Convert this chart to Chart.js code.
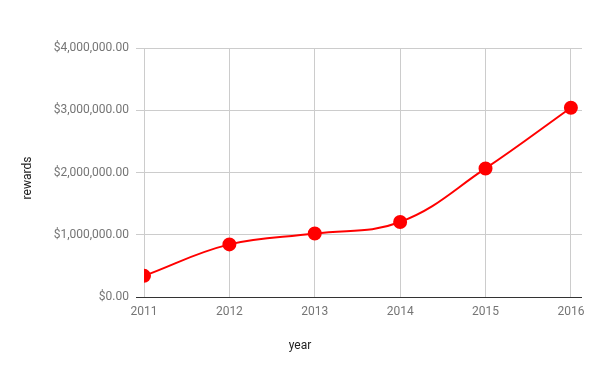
<!DOCTYPE html>
<html>
<head>
<meta charset="utf-8">
<script src="https://cdn.jsdelivr.net/npm/chart.js@4"></script>
<style>
  html, body { margin: 0; padding: 0; background: #fff; }
  #wrap { width: 600px; height: 371px; position: relative; }
</style>
</head>
<body>
<div id="wrap"><canvas id="chart"></canvas></div>
<script>
const years = [2011, 2012, 2013, 2014, 2015, 2016];
const rewards = [340000, 845000, 1020000, 1205000, 2065000, 3040000];
const yTicks = [0, 1000000, 2000000, 3000000, 4000000];

const money = (v) =>
  "$" + v.toLocaleString("en-US", { minimumFractionDigits: 2, maximumFractionDigits: 2 });

// axis titles drawn by hand so "year" sits at the page centre like the original
const axisTitles = {
  id: "axisTitles",
  afterDraw(chart) {
    const ctx = chart.ctx;
    ctx.save();
    ctx.fillStyle = "#222";
    ctx.font = "12px Roboto";
    ctx.textAlign = "center";
    ctx.textBaseline = "middle";
    ctx.fillText("year", 300, 346);
    ctx.translate(28, 178);
    ctx.rotate(-Math.PI / 2);
    ctx.fillText("rewards", 0, 0);
    ctx.restore();
  },
};

new Chart(document.getElementById("chart"), {
  type: "line",
  data: {
    datasets: [
      {
        label: "rewards",
        data: years.map((y, i) => ({ x: y, y: rewards[i] })),
        borderColor: "#ff0000",
        backgroundColor: "#ff0000",
        borderWidth: 2,
        pointRadius: 6,
        pointHoverRadius: 6,
        tension: 0.4,
      },
    ],
  },
  options: {
    responsive: true,
    maintainAspectRatio: false,
    animation: false,
    layout: { padding: { top: 48, right: 18, bottom: 0, left: 0 } },
    plugins: { legend: { display: false }, tooltip: { enabled: false } },
    scales: {
      x: {
        type: "linear",
        min: 2011,
        max: 2016.13,
        afterBuildTicks: (scale) => { scale.ticks = years.map((v) => ({ value: v })); },
        afterFit: (scale) => { scale.height = 74; },
        ticks: {
          callback: (v) => String(v),
          color: "#757575",
          font: { family: "Roboto", size: 12 },
          padding: 8,
          maxRotation: 0,
        },
        grid: { color: "#cccccc", drawTicks: false },
        border: { display: false },
      },
      y: {
        min: 0,
        max: 4000000,
        afterBuildTicks: (scale) => { scale.ticks = yTicks.map((v) => ({ value: v })); },
        afterFit: (scale) => { scale.width = 144; },
        ticks: {
          callback: (v) => money(v),
          color: "#757575",
          font: { family: "Roboto", size: 12 },
          padding: 7,
        },
        grid: {
          color: (c) => (c.tick && c.tick.value === 0 ? "#333333" : "#cccccc"),
          tickLength: 8,
        },
        border: { display: false },
      },
    },
  },
  plugins: [axisTitles],
});
</script>
</body>
</html>
